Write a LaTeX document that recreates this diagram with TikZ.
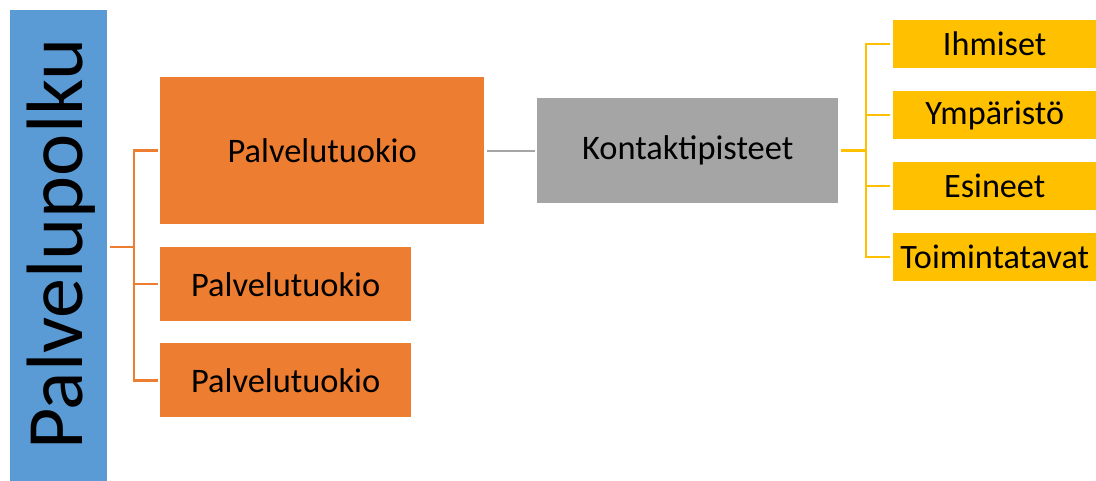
\documentclass[tikz,border=0pt]{standalone}
\usepackage{fontspec}
\setmainfont{Carlito}
\definecolor{pathblue}{HTML}{5B9BD5}
\definecolor{stageorange}{HTML}{ED7D31}
\definecolor{touchgrey}{HTML}{A5A5A5}
\definecolor{itemgold}{HTML}{FFC000}
\begin{document}
\begin{tikzpicture}[x=1pt,y=-1pt,
  box/.style={rectangle, inner sep=0pt, anchor=north west, text=black},
  stage/.style={box, fill=stageorange, font=\fontsize{34.4}{40}\selectfont},
  touch/.style={box, fill=touchgrey, font=\fontsize{34.4}{40}\selectfont},
  item/.style={box, fill=itemgold, font=\fontsize{34.2}{40}\selectfont,
    minimum width=203pt, minimum height=48pt},
  olink/.style={draw=stageorange, line width=2.6pt},
  glink/.style={draw=touchgrey, line width=2pt},
  ylink/.style={draw=itemgold, line width=2.6pt}]
\useasboundingbox (0,0) rectangle (1096,481);
\fill[white] (0,0) rectangle (1096,481);

% main path bar with its rotated title
\node[box, fill=pathblue, minimum width=97pt, minimum height=471pt] (polku) at (10,10) {};
\node[rotate=90, anchor=base, inner sep=0pt, font=\fontsize{80}{90}\selectfont] (polkulabel) at (82,244) {Palvelupolku};

% service stages
\node[stage, minimum width=324pt, minimum height=147pt] (s1) at (160,77) {Palvelutuokio};
\node[stage, minimum width=251pt, minimum height=74pt] (s2) at (160,247) {Palvelutuokio};
\node[stage, minimum width=251pt, minimum height=74pt] (s3) at (160,343) {Palvelutuokio};

% touchpoints
\node[touch, minimum width=301pt, minimum height=105pt] (k) at (537,98) {Kontaktipisteet};

% touchpoint categories
\node[item] (i1) at (893,20) {Ihmiset};
\node[item] (i2) at (893,91) {Ympäristö};
\node[item] (i3) at (893,162) {Esineet};
\node[item] (i4) at (893,233) {Toimintatavat};

% bracket from the path to the stages
\coordinate (oj) at (134,247);
\draw[olink, shorten <=3pt] (polku.east |- oj) -- (oj);
\draw[olink, shorten >=2pt] (oj) |- (s1.west);
\draw[olink, shorten >=2pt] (oj) |- (s2.west);
\draw[olink, shorten >=2pt] (oj) |- (s3.west);

% stage to touchpoints
\draw[glink, shorten <=3pt, shorten >=2pt] (s1.east) -- (s1.east -| k.west);

% bracket from touchpoints to categories
\coordinate (yj) at (866,150.5);
\draw[ylink, shorten <=3pt] (k.east |- yj) -- (yj);
\draw[ylink, shorten >=3pt] (yj) |- (i1.west);
\draw[ylink, shorten >=3pt] (yj) |- (i2.west);
\draw[ylink, shorten >=3pt] (yj) |- (i3.west);
\draw[ylink, shorten >=3pt] (yj) |- (i4.west);
\end{tikzpicture}
\end{document}
